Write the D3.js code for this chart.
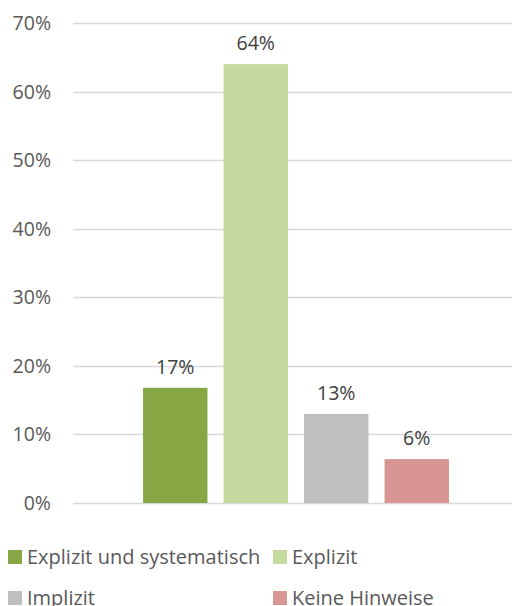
<!DOCTYPE html>
<html>
<head>
<meta charset="utf-8">
<script src="https://cdn.jsdelivr.net/npm/d3@7"></script>
<style>
  body { margin: 0; background: #fff; }
  text { font-family: "Open Sans", sans-serif; fill: #595959; }
</style>
</head>
<body>
<svg id="chart" width="512" height="606"></svg>
<script>
// data
var series = ["Explizit und systematisch", "Explizit", "Implizit", "Keine Hinweise"];
var values = [0.168, 0.64, 0.13, 0.064];
var labels = ["17%", "64%", "13%", "6%"];
var colors = ["#86a744", "#c5d89d", "#bfbfbf", "#d99594"];
var yTicks = [0, 0.1, 0.2, 0.3, 0.4, 0.5, 0.6, 0.7];

var svg = d3.select("#chart");
var plot = { left: 73, right: 512, top: 23, bottom: 503 };

var y = d3.scaleLinear().domain([0, 0.7]).range([plot.bottom, plot.top]);
var x = d3.scaleBand().domain(series).range([135, 457]).paddingInner(0.2).paddingOuter(0.1);

// gridlines
svg.append("g")
    .selectAll("line")
    .data(yTicks)
    .enter().append("line")
    .attr("x1", plot.left)
    .attr("x2", plot.right)
    .attr("y1", function(d) { return Math.round(y(d)) + 0.5; })
    .attr("y2", function(d) { return Math.round(y(d)) + 0.5; })
    .attr("stroke", "#d9d9d9")
    .attr("stroke-width", 1.3);

// y axis labels
var fmt = d3.format(".0%");
svg.append("g")
    .selectAll("text")
    .data(yTicks)
    .enter().append("text")
    .attr("x", 51)
    .attr("y", function(d) { return y(d); })
    .attr("dy", "0.36em")
    .attr("text-anchor", "end")
    .style("font-size", "19.5px")
    .text(function(d) { return fmt(d); });

// bars
svg.append("g")
    .selectAll("rect")
    .data(values)
    .enter().append("rect")
    .attr("x", function(d, i) { return x(series[i]); })
    .attr("width", x.bandwidth())
    .attr("y", function(d) { return y(d); })
    .attr("height", function(d) { return y(0) - y(d); })
    .attr("fill", function(d, i) { return colors[i]; });

// value labels
svg.append("g")
    .selectAll("text")
    .data(values)
    .enter().append("text")
    .attr("x", function(d, i) { return x(series[i]) + x.bandwidth() / 2; })
    .attr("y", function(d) { return y(d) - 14; })
    .attr("text-anchor", "middle")
    .style("font-size", "19.5px")
    .style("fill", "#404040")
    .text(function(d, i) { return labels[i]; });

// legend, two rows
var legPos = [[8, 557], [273, 557], [8, 598], [273, 598]];
var leg = svg.append("g")
    .selectAll("g")
    .data(series)
    .enter().append("g")
    .attr("transform", function(d, i) { return "translate(" + legPos[i][0] + "," + legPos[i][1] + ")"; });

leg.append("rect")
    .attr("x", 0)
    .attr("y", -7)
    .attr("width", 14)
    .attr("height", 14)
    .attr("fill", function(d, i) { return colors[i]; });

leg.append("text")
    .attr("x", 19)
    .attr("y", 0)
    .attr("dy", "0.36em")
    .style("font-size", "20px")
    .text(function(d) { return d; });
</script>
</body>
</html>
